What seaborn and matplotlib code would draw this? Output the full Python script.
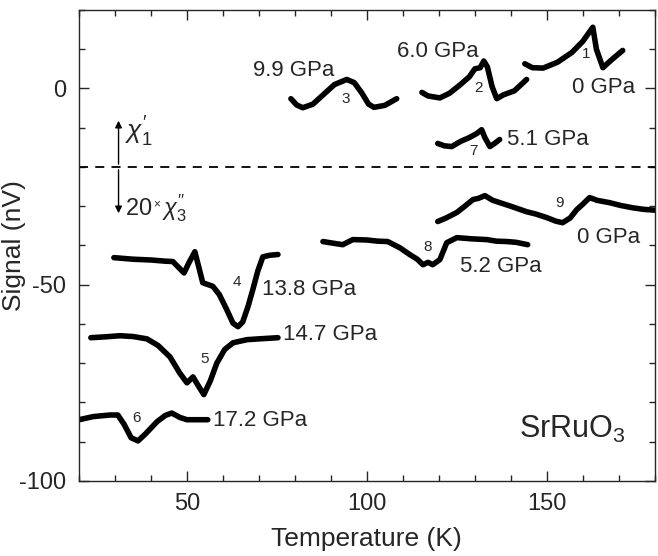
import numpy as np
import pandas as pd
import matplotlib
matplotlib.use('Agg')
import matplotlib.pyplot as plt
import seaborn as sns
from matplotlib.ticker import MultipleLocator

# curve data: temperature (K) and signal (nV)
T1 = [143.9, 146, 149, 153, 157, 160, 162.8, 163.8, 165.6, 168, 171.1]
S1 = [6.3, 5.3, 5.2, 6.7, 9.2, 12.0, 15.6, 10.0, 5.3, 7.3, 9.7]
T2 = [115.3, 117, 120.3, 123, 126, 128.5, 130, 131.5, 132.5, 133.5, 134.8, 136.1, 138, 141, 144.4]
S2 = [-1.0, -1.9, -2.4, -1.2, 1.0, 3.0, 5.0, 5.3, 7.0, 5.5, 0.5, -2.6, -1.6, -0.6, 2.3]
T3 = [78.9, 80.5, 82.2, 85, 88, 91, 94.4, 96.5, 98.5, 100.5, 102, 105, 108.3]
S3 = [-2.6, -4.2, -4.9, -4.0, -1.5, 1.0, 2.3, 1.5, -1.0, -4.0, -4.8, -4.3, -2.6]
T4 = [29.7, 35, 40, 44, 46.1, 49.2, 50.5, 52.2, 53.3, 54.4, 57.2, 59, 61.1, 62.8, 64.2,
      65.5, 67, 68.3, 69.7, 71.1, 73, 75.3]
S4 = [-43.1, -43.5, -43.7, -44.0, -44.1, -47.0, -44.5, -41.6, -45.5, -49.5, -50.4, -52.5,
      -56.4, -59.8, -60.7, -59.5, -55.5, -51.3, -46.5, -42.9, -42.5, -42.3]
T5 = [23.3, 27, 31.4, 35, 38.9, 42, 45.3, 48, 50, 51.7, 53, 54.7, 56.5, 58.3, 60.5, 62.8,
      66.7, 70, 75.3]
S5 = [-63.5, -63.3, -63.0, -63.2, -63.8, -65.5, -68.4, -72.5, -75, -73.5, -75.5, -78,
      -74.5, -70, -66.5, -64.8, -64.0, -63.8, -63.5]
T6 = [20, 24, 28.6, 30.8, 32.5, 34.5, 36.4, 38.5, 41.7, 44, 45.8, 48, 50, 53, 55.8]
S6 = [-84.4, -83.6, -83.2, -83.2, -85.5, -89.0, -89.8, -88.0, -84.9, -83.3, -82.7, -83.8,
      -84.4, -84.4, -84.4]
T7 = [119.7, 121.5, 123.6, 126, 128.5, 130.5, 131.9, 132.8, 134.2, 135.5, 136.9]
S7 = [-14.0, -14.6, -14.8, -13.5, -12.5, -11.5, -10.5, -12.5, -14.8, -14.0, -13.0]
T8 = [87.8, 90.5, 93.3, 96.1, 100, 103, 105.8, 109.2, 111.9, 114, 115.6, 117, 118.3, 120.3,
      122.2, 125, 129, 133.3, 136, 138.9, 141.5, 144.7]
S8 = [-39.0, -39.4, -39.8, -38.5, -38.6, -38.9, -39.0, -40.6, -42.3, -43.5, -44.9, -44.3,
      -44.9, -43.6, -39.3, -38.0, -38.3, -38.5, -38.9, -39.0, -39.2, -39.8]
T9 = [119.7, 122, 125, 127.5, 129.5, 131, 132.8, 135, 137, 140, 144.4, 147, 150, 152.5,
      154.4, 156.5, 158.3, 160, 161.9, 164, 167.5, 170.5, 173.9, 177, 180]
S9 = [-33.9, -33.0, -31.6, -29.8, -28.3, -28.0, -27.3, -28.5, -29.1, -30.0, -31.4, -32.0,
      -32.9, -33.8, -34.2, -33.0, -30.9, -29.5, -27.8, -28.5, -29.1, -29.8, -30.4, -30.8, -31.0]

CURVES = [(T1, S1), (T2, S2), (T3, S3), (T4, S4), (T5, S5), (T6, S6), (T7, S7), (T8, S8), (T9, S9)]

# curve number labels and where they sit
NUM_T = [161, 131, 94, 63.9, 55, 36.1, 129.7, 117, 153.6]
NUM_S = [8.7, 0, -2.8, -49.2, -69, -84, -16, -40.3, -29.3]

# pressure labels
P_TEXT = ['0 GPa', '6.0 GPa', '9.9 GPa', '13.8 GPa', '14.7 GPa', '17.2 GPa', '5.1 GPa', '5.2 GPa', '0 GPa']
P_T = [165.8, 119.7, 79.7, 70.8, 76.7, 57.2, 138.9, 125.8, 158.3]
P_S = [0.2, 9.5, 4.6, -51.3, -62.8, -84.7, -13, -45.4, -38]
P_HA = ['center', 'center', 'center', 'left', 'left', 'left', 'left', 'left', 'left']

sns.set_style('ticks')
plt.rcParams['font.family'] = ['Liberation Sans', 'DejaVu Sans']
plt.rcParams['mathtext.fontset'] = 'custom'
plt.rcParams['mathtext.rm'] = 'Liberation Sans'
plt.rcParams['mathtext.it'] = 'Liberation Sans:italic'
plt.rcParams['axes.unicode_minus'] = False

fig = plt.figure(figsize=(6.58, 5.56), dpi=100)
ax = fig.add_axes([0.120, 0.135, 0.875, 0.847])

for i, (t, s) in enumerate(CURVES):
    df = pd.DataFrame({'T': t, 'S': s})
    sns.lineplot(data=df, x='T', y='S', sort=False, color='black', lw=4,
                 solid_capstyle='round', solid_joinstyle='round', ax=ax)

for i in range(len(NUM_T)):
    ax.text(NUM_T[i], NUM_S[i], str(i + 1), fontsize=11, ha='center', va='center')

for i in range(len(P_TEXT)):
    ax.text(P_T[i], P_S[i], P_TEXT[i], fontsize=16, ha=P_HA[i], va='center')

ax.axhline(-20, color='black', lw=1.3, ls=(0, (5, 4)))

# double arrow marking the two signal components
ax.annotate('', xy=(31, -7.5), xytext=(31, -20),
            arrowprops=dict(arrowstyle='-|>', color='black', lw=1, mutation_scale=10))
ax.annotate('', xy=(31, -32.5), xytext=(31, -20),
            arrowprops=dict(arrowstyle='-|>', color='black', lw=1, mutation_scale=10))
ax.text(32.8, -11, r"$\chi_1'$", fontsize=19, ha='left', va='center')
ax.text(32.8, -30.4, r"20$^{_\times}\chi_3''$", fontsize=17, ha='left', va='center')

ax.text(172, -87, r"SrRuO$_3$", fontsize=22, ha='right', va='center')

ax.set_xlim(20, 180)
ax.set_ylim(-100, 20)
ax.xaxis.set_major_locator(MultipleLocator(50))
ax.xaxis.set_minor_locator(MultipleLocator(10))
ax.yaxis.set_major_locator(MultipleLocator(50))
ax.yaxis.set_minor_locator(MultipleLocator(10))
ax.tick_params(which='both', direction='in', top=True, right=True, width=1, labelsize=17)
ax.tick_params(which='major', length=7, pad=9)
ax.tick_params(which='minor', length=4)
for sp in ax.spines.values():
    sp.set_linewidth(1)

ax.set_xlabel('Temperature (K)', fontsize=19, labelpad=8)
ax.set_ylabel('Signal (nV)', fontsize=19)
ax.yaxis.set_label_coords(-0.092, 0.5)

fig.savefig('out.png', dpi=100)
